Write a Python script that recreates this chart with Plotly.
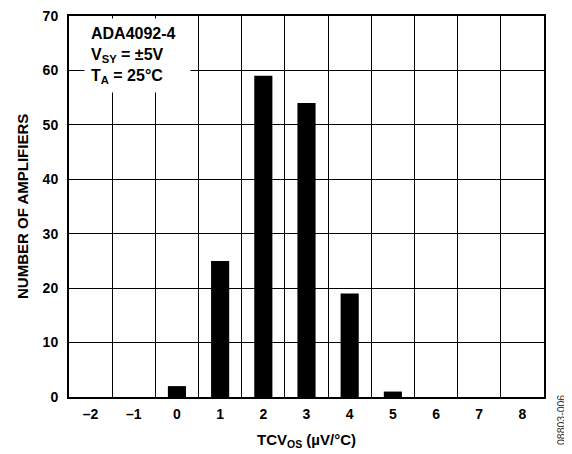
import plotly.graph_objects as go

categories = [-2, -1, 0, 1, 2, 3, 4, 5, 6, 7, 8]
counts = [0, 0, 2, 25, 59, 54, 19, 1, 0, 0, 0]
y_ticks = [0, 10, 20, 30, 40, 50, 60, 70]
x_tick_labels = ["\u20132", "\u20131", "0", "1", "2", "3", "4", "5", "6", "7", "8"]

font_family = "Liberation Sans, Arial, sans-serif"

# page body has an 8px margin, so the figure canvas starts at (8, 8)
OFF = 8
W, H = 572 - OFF, 454 - OFF
L, T = 69 - OFF, 16 - OFF
R = W - (544 - OFF)
B = H - (397 - OFF)
pw, ph = W - L - R, H - T - B


def px(xr):
    return (xr - OFF - L) / pw


def py(yr):
    return (H - B - (yr - OFF)) / ph


fig = go.Figure()
fig.add_trace(go.Bar(x=categories, y=counts, width=0.42,
                     marker=dict(color="black", line=dict(width=0))))

fig.update_layout(
    width=W, height=H,
    margin=dict(l=L, r=R, t=T, b=B),
    paper_bgcolor="white", plot_bgcolor="white",
    showlegend=False,
    font=dict(family=font_family, color="black"),
)
fig.update_xaxes(
    range=[-2.5, 8.5], automargin=False,
    tickvals=categories, ticktext=x_tick_labels,
    tickfont=dict(size=14, family=font_family, weight="bold"),
    ticklabelstandoff=3, ticklabeloverflow="allow",
    showgrid=False,
    minor=dict(tick0=0.5, dtick=1, showgrid=True, gridcolor="black", gridwidth=1, ticks=""),
    showline=True, linecolor="black", linewidth=2, mirror=True,
    ticks="", zeroline=False,
)
fig.update_yaxes(
    range=[0, 70], automargin=False,
    tickvals=y_ticks,
    tickfont=dict(size=14, family=font_family, weight="bold"),
    ticklabelstandoff=6, ticklabeloverflow="allow",
    showgrid=True, gridcolor="black", gridwidth=1,
    showline=True, linecolor="black", linewidth=2, mirror=True,
    ticks="", zeroline=False,
)

# axis titles
fig.add_annotation(
    xref="paper", yref="paper", x=px(306), y=py(440), xanchor="center", yanchor="middle",
    text="<b>TCV<sub>OS</sub> (\u00b5V/\u00b0C)</b>", showarrow=False,
    font=dict(size=15, family=font_family, color="black"),
)
fig.add_annotation(
    xref="paper", yref="paper", x=px(23), y=py(207), xanchor="center", yanchor="middle",
    text="<b>NUMBER OF AMPLIFIERS</b>", textangle=-90, showarrow=False,
    font=dict(size=15, family=font_family, color="black"),
)

# condition box
fig.add_annotation(
    xref="paper", yref="paper", x=px(84), y=py(18), xanchor="left", yanchor="top",
    text="<b>ADA4092-4&nbsp;&nbsp;<br>V<sub>SY</sub> = \u00b15V<br>T<sub>A</sub> = 25\u00b0C</b>",
    showarrow=False, align="left", bgcolor="white", borderpad=6,
    font=dict(size=16, family=font_family, color="black"),
)
fig.add_annotation(
    xref="paper", yref="paper", x=px(561), y=py(420), xanchor="center", yanchor="middle",
    text="08803-006", textangle=-90, showarrow=False,
    font=dict(size=10.5, family=font_family, color="#333333"),
)

fig.write_html("out.html")
